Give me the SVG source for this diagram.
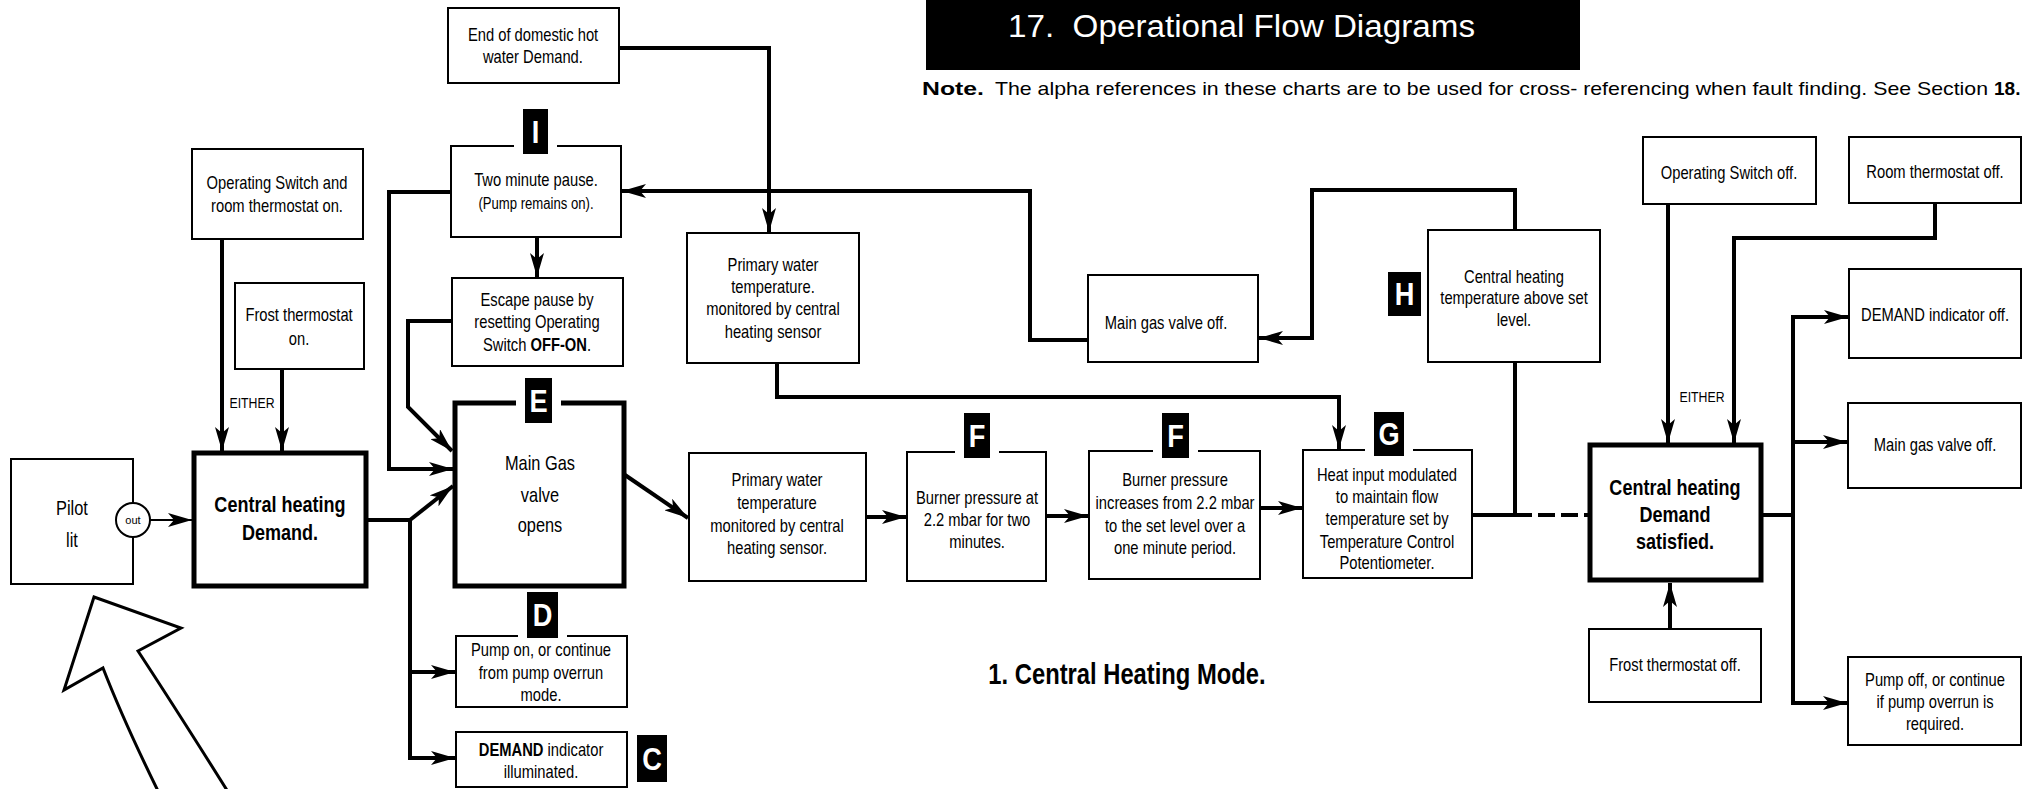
<svg xmlns="http://www.w3.org/2000/svg" width="2031" height="789" viewBox="0 0 2031 789">
<style>
.box{fill:#fff;stroke:#000;stroke-width:2}
.thk{fill:#fff;stroke:#000;stroke-width:5}
.t{font-family:"Liberation Sans",Arial,sans-serif;font-size:18px;text-anchor:middle;fill:#000;transform-box:fill-box;transform-origin:center;transform:scaleX(0.82)}
.b{font-weight:bold}
.big{font-size:22px;font-weight:bold}
.mg{font-size:20px}
.c{fill:none;stroke:#000;stroke-width:4;stroke-linejoin:miter}
.a{marker-end:url(#ah)}
.bd{fill:#000}
.bl{font-family:"Liberation Sans",Arial,sans-serif;font-size:32px;font-weight:bold;fill:#fff;text-anchor:middle;transform-box:fill-box;transform-origin:center;transform:scaleX(0.85)}
.gap{fill:#fff}
</style>
<defs>
<marker id="ah" markerUnits="userSpaceOnUse" markerWidth="24" markerHeight="14" viewBox="0 0 24 14" refX="24" refY="7" orient="auto">
<path d="M0,0 L24,7 L0,14 L6,7 Z" fill="#000"/>
</marker>
</defs>
<rect width="2031" height="789" fill="#fff"/>

<g id="title">
<rect x="926" y="0" width="654" height="70" fill="#000"/>
<text x="1008" y="37" font-family="Liberation Sans, Arial, sans-serif" font-size="31" fill="#fff" textLength="467" lengthAdjust="spacingAndGlyphs" xml:space="preserve">17.  Operational Flow Diagrams</text>
</g>
<g id="note" font-family="Liberation Sans, Arial, sans-serif" font-size="19">
<text x="922" y="95" font-weight="bold" textLength="62" lengthAdjust="spacingAndGlyphs">Note.</text>
<text x="995" y="95" textLength="993" lengthAdjust="spacingAndGlyphs">The alpha references in these charts are to be used for cross- referencing when fault finding. See Section</text>
<text x="1994" y="95" font-weight="bold">18.</text>
</g>

<g id="connectors">
<path class="c a" d="M222,239 V451"/>
<path class="c a" d="M282,369 V451"/>
<path class="c a" d="M150,520 H192" style="stroke-width:2"/>
<path class="c a" d="M366,520 H410 V758 H455"/>
<path class="c a" d="M410,672 H455"/>
<path class="c a" d="M410,520 L453,486"/>
<path class="c a" d="M451,192 H389 V469 H453"/>
<path class="c a" d="M452,321 H408 V407 L452,451"/>
<path class="c a" d="M537,237 V277"/>
<path class="c a" d="M619,48 H769 V232"/>
<path class="c a" d="M1088,340 H1030 V191 H622"/>
<path class="c a" d="M1515,230 V190 H1312 V338 H1259"/>
<path class="c a" d="M777,363 V397 H1339 V449"/>
<path class="c a" d="M625,475 L688,518"/>
<path class="c a" d="M866,517 H906"/>
<path class="c a" d="M1046,516 H1088"/>
<path class="c a" d="M1260,508 H1302"/>
<path class="c" d="M1472,515 H1515 V362"/>
<path class="c" d="M1515,515 H1588" stroke-dasharray="17,6"/>
<path class="c a" d="M1668,204 V443"/>
<path class="c a" d="M1935,203 V238 H1734 V443"/>
<path class="c a" d="M1670,629 V583"/>
<path class="c" d="M1761,515 H1793"/>
<path class="c a" d="M1793,515 V317 H1848"/>
<path class="c a" d="M1793,515 V703 H1847"/>
<path class="c a" d="M1793,442 H1847"/>
<text class="t" x="252" y="408" style="font-size:15px">EITHER</text>
<text class="t" x="1702" y="402" style="font-size:15px">EITHER</text>
</g>

<g id="hollow-arrow">
<path d="M94,597 L181,628 L138,651 Q178,712 230,795 L160,795 Q124,722 103,668 L64,690 Z" fill="#fff" stroke="#000" stroke-width="3" stroke-linejoin="miter"/>
</g>

<g id="n-end-dhw">
<rect class="box" x="448" y="8" width="171" height="75"/>
<text class="t" x="533" y="41">End of domestic hot</text>
<text class="t" x="533" y="63">water Demand.</text>
</g>

<g id="n-two-minute">
<rect class="box" x="451" y="146" width="170" height="91"/>
<rect class="gap" x="514" y="142" width="43" height="8"/>
<rect class="bd" x="523" y="109" width="25" height="45"/>
<text class="bl" x="535.5" y="143">I</text>
<text class="t" x="536" y="186">Two minute pause.</text>
<text class="t" x="536" y="209" style="font-size:16px">(Pump remains on).</text>
</g>

<g id="n-op-switch-on">
<rect class="box" x="192" y="149" width="171" height="90"/>
<text class="t" x="277" y="189">Operating Switch and</text>
<text class="t" x="277" y="212">room thermostat on.</text>
</g>

<g id="n-escape">
<rect class="box" x="452" y="278" width="171" height="88"/>
<text class="t" x="537" y="306">Escape pause by</text>
<text class="t" x="537" y="328">resetting Operating</text>
<text class="t" x="537" y="351">Switch <tspan class="b">OFF-ON</tspan>.</text>
</g>

<g id="n-frost-on">
<rect class="box" x="235" y="283" width="129" height="86"/>
<text class="t" x="299" y="321">Frost thermostat</text>
<text class="t" x="299" y="345">on.</text>
</g>

<g id="n-pilot">
<rect class="box" x="11" y="459" width="122" height="125"/>
<circle cx="133" cy="520" r="17" fill="#fff" stroke="#000" stroke-width="2"/>
<text x="133" y="524" font-family="Liberation Sans, Arial, sans-serif" font-size="11" text-anchor="middle">out</text>
<text class="t mg" x="72" y="515">Pilot</text>
<text class="t mg" x="72" y="547">lit</text>
</g>

<g id="n-ch-demand">
<rect class="thk" x="194" y="453" width="172" height="133"/>
<text class="t big" x="280" y="512">Central heating</text>
<text class="t big" x="280" y="540">Demand.</text>
</g>

<g id="n-main-gas">
<rect class="thk" x="455" y="403" width="169" height="183"/>
<rect class="gap" x="516" y="398" width="45" height="10"/>
<rect class="bd" x="525" y="378" width="27" height="45"/>
<text class="bl" x="538.5" y="412">E</text>
<text class="t mg" x="540" y="470">Main Gas</text>
<text class="t mg" x="540" y="502">valve</text>
<text class="t mg" x="540" y="532">opens</text>
</g>

<g id="n-pump-on">
<rect class="box" x="456" y="636" width="171" height="71"/>
<rect class="gap" x="518" y="632" width="49" height="8"/>
<rect class="bd" x="527" y="592" width="31" height="46"/>
<text class="bl" x="542.5" y="626.5">D</text>
<text class="t" x="541" y="656">Pump on, or continue</text>
<text class="t" x="541" y="679">from pump overrun</text>
<text class="t" x="541" y="701">mode.</text>
</g>

<g id="n-demand-illum">
<rect class="box" x="456" y="732" width="171" height="55"/>
<text class="t" x="541" y="756"><tspan class="b">DEMAND</tspan> indicator</text>
<text class="t" x="541" y="778">illuminated.</text>
<rect class="bd" x="637" y="735" width="30" height="47"/>
<text class="bl" x="652" y="770">C</text>
</g>

<g id="n-primary-upper">
<rect class="box" x="687" y="233" width="172" height="130"/>
<text class="t" x="773" y="271">Primary water</text>
<text class="t" x="773" y="293">temperature.</text>
<text class="t" x="773" y="315">monitored by central</text>
<text class="t" x="773" y="338">heating sensor</text>
</g>

<g id="n-gas-off-mid">
<rect class="box" x="1088" y="275" width="170" height="87"/>
<text class="t" x="1166" y="329">Main gas valve off.</text>
</g>

<g id="n-primary-lower">
<rect class="box" x="689" y="453" width="177" height="128"/>
<text class="t" x="777" y="486">Primary water</text>
<text class="t" x="777" y="509">temperature</text>
<text class="t" x="777" y="532">monitored by central</text>
<text class="t" x="777" y="554">heating sensor.</text>
</g>

<g id="n-burner-22">
<rect class="box" x="907" y="452" width="139" height="129"/>
<rect class="gap" x="955" y="448" width="44" height="8"/>
<rect class="bd" x="964" y="413" width="26" height="45"/>
<text class="bl" x="977" y="447">F</text>
<text class="t" x="977" y="504">Burner pressure at</text>
<text class="t" x="977" y="526">2.2 mbar for two</text>
<text class="t" x="977" y="548">minutes.</text>
</g>

<g id="n-burner-inc">
<rect class="box" x="1089" y="451" width="171" height="128"/>
<rect class="gap" x="1153" y="447" width="45" height="8"/>
<rect class="bd" x="1162" y="413" width="27" height="45"/>
<text class="bl" x="1175.5" y="447">F</text>
<text class="t" x="1175" y="486">Burner pressure</text>
<text class="t" x="1175" y="509">increases from 2.2 mbar</text>
<text class="t" x="1175" y="532">to the set level over a</text>
<text class="t" x="1175" y="554">one minute period.</text>
</g>

<g id="n-heat-input">
<rect class="box" x="1303" y="450" width="169" height="128"/>
<rect class="gap" x="1365" y="446" width="48" height="8"/>
<rect class="bd" x="1374" y="412" width="30" height="44"/>
<text class="bl" x="1389" y="445.5">G</text>
<text class="t" x="1387" y="481">Heat input modulated</text>
<text class="t" x="1387" y="503">to maintain flow</text>
<text class="t" x="1387" y="525">temperature set by</text>
<text class="t" x="1387" y="548">Temperature Control</text>
<text class="t" x="1387" y="569">Potentiometer.</text>
</g>

<g id="n-ch-above">
<rect class="box" x="1428" y="230" width="172" height="132"/>
<text class="t" x="1514" y="283">Central heating</text>
<text class="t" x="1514" y="304">temperature above set</text>
<text class="t" x="1514" y="326">level.</text>
<rect class="bd" x="1388" y="272" width="33" height="44"/>
<text class="bl" x="1404.5" y="305.5">H</text>
</g>

<g id="n-op-switch-off">
<rect class="box" x="1643" y="137" width="173" height="67"/>
<text class="t" x="1729" y="179">Operating Switch off.</text>
</g>

<g id="n-room-off">
<rect class="box" x="1849" y="137" width="172" height="66"/>
<text class="t" x="1935" y="178">Room thermostat off.</text>
</g>

<g id="n-demand-off">
<rect class="box" x="1849" y="269" width="172" height="89"/>
<text class="t" x="1935" y="321">DEMAND indicator off.</text>
</g>

<g id="n-ch-satisfied">
<rect class="thk" x="1590" y="445" width="171" height="135"/>
<text class="t big" x="1675" y="495">Central heating</text>
<text class="t big" x="1675" y="522">Demand</text>
<text class="t big" x="1675" y="549">satisfied.</text>
</g>

<g id="n-gas-off-right">
<rect class="box" x="1848" y="403" width="173" height="85"/>
<text class="t" x="1935" y="451">Main gas valve off.</text>
</g>

<g id="n-frost-off">
<rect class="box" x="1589" y="629" width="172" height="73"/>
<text class="t" x="1675" y="671">Frost thermostat off.</text>
</g>

<g id="n-pump-off">
<rect class="box" x="1848" y="657" width="173" height="88"/>
<text class="t" x="1935" y="686">Pump off, or continue</text>
<text class="t" x="1935" y="708">if pump overrun is</text>
<text class="t" x="1935" y="730">required.</text>
</g>

<g id="caption">
<text class="t" x="1127" y="684" style="font-size:29px;font-weight:bold">1. Central Heating Mode.</text>
</g>
</svg>
